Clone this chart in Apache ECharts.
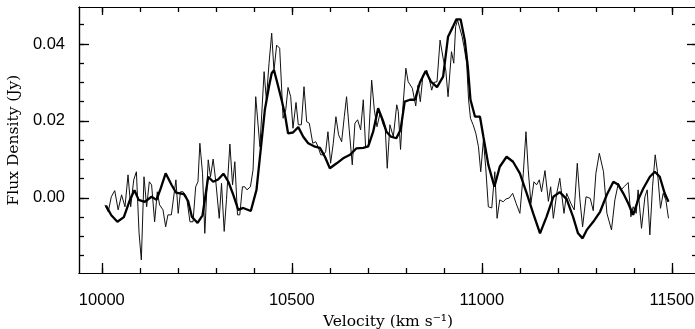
<!DOCTYPE html>
<html>
<head>
<meta charset="utf-8">
<script src="https://cdn.jsdelivr.net/npm/echarts@6/dist/echarts.min.js"></script>
<style>
  html, body { margin: 0; padding: 0; background: #fff; }
  #chart { width: 695px; height: 329px; }
</style>
</head>
<body>
<div id="chart"></div>
<script>
// thin trace: raw spectrum (velocity km/s, flux Jy)
const thinVel = [10008,10017,10025,10034,10043,10052,10061,10069,10076,10084,10091,10098,10104,10111,10118,10125,10131,10139,10146,10152,10161,10168,10174,10183,10195,10201,10207,10214,10223,10232,10240,10247,10253,10258,10265,10271,10280,10286,10293,10300,10309,10315,10322,10328,10337,10344,10350,10357,10363,10370,10376,10382,10391,10398,10405,10416,10427,10433,10440,10447,10453,10460,10468,10477,10484,10490,10497,10503,10511,10517,10525,10532,10539,10546,10555,10563,10569,10576,10583,10589,10595,10602,10609,10616,10623,10631,10638,10644,10651,10659,10666,10673,10681,10688,10694,10701,10710,10717,10724,10732,10739,10746,10751,10758,10767,10776,10780,10786,10793,10800,10806,10817,10826,10832,10838,10845,10855,10862,10868,10874,10882,10890,10898,10905,10911,10920,10926,10931,10936,10941,10948,10953,10960,10965,10970,10977,10984,10991,10997,11004,11010,11017,11026,11034,11040,11047,11056,11063,11072,11081,11090,11100,11109,11116,11122,11129,11137,11144,11151,11157,11166,11175,11181,11188,11197,11205,11216,11223,11234,11243,11251,11258,11265,11274,11285,11293,11300,11309,11320,11329,11341,11350,11359,11366,11374,11385,11392,11398,11406,11411,11420,11429,11435,11442,11449,11456,11462,11470,11477,11484,11491]
const thinFlux = [-0.0018,-0.0036,0.0003,0.0019,-0.0031,0.0008,-0.0023,0.0060,-0.0023,0.0047,0.0068,-0.0091,-0.0161,0.0055,-0.0023,0.0042,0.0034,-0.0062,0.0016,-0.0018,-0.0031,-0.0075,-0.0044,-0.0044,0.0047,-0.0040,0.0016,0.0016,0.0003,-0.0062,-0.0062,0.0029,0.0042,0.0142,0.0064,-0.0092,0.0099,0.0055,0.0101,0.0042,-0.0053,0.0038,-0.0087,-0.0005,0.0140,0.0034,0.0094,-0.0044,-0.0044,0.0029,0.0029,0.0021,0.0029,0.0073,0.0263,0.0133,0.0328,0.0255,0.0350,0.0428,0.0330,0.0397,0.0389,0.0207,0.0229,0.0287,0.0263,0.0181,0.0248,0.0190,0.0190,0.0289,0.0198,0.0194,0.0142,0.0146,0.0133,0.0112,0.0112,0.0120,0.0172,0.0090,0.0142,0.0211,0.0164,0.0146,0.0211,0.0263,0.0177,0.0086,0.0194,0.0203,0.0177,0.0255,0.0133,0.0133,0.0306,0.0229,0.0185,0.0220,0.0194,0.0177,0.0077,0.0190,0.0159,0.0242,0.0225,0.0126,0.0246,0.0337,0.0302,0.0285,0.0239,0.0293,0.0250,0.0319,0.0332,0.0307,0.0280,0.0300,0.0302,0.0410,0.0363,0.0332,0.0263,0.0380,0.0350,0.0445,0.0462,0.0462,0.0419,0.0393,0.0350,0.0255,0.0207,0.0190,0.0168,0.0133,0.0068,0.0150,0.0081,-0.0023,-0.0026,0.0068,-0.0053,-0.0005,-0.0010,-0.0003,0.0000,0.0012,-0.0014,-0.0040,0.0064,0.0172,0.0073,-0.0014,0.0042,0.0034,0.0047,0.0016,0.0071,-0.0009,0.0029,-0.0053,0.0012,0.0051,-0.0040,0.0012,-0.0014,-0.0031,0.0090,-0.0005,-0.0075,0.0003,-0.0001,-0.0033,0.0064,0.0116,0.0068,-0.0040,-0.0083,-0.0005,0.0038,0.0021,0.0029,0.0040,-0.0049,-0.0023,-0.0040,0.0021,-0.0079,0.0003,0.0021,-0.0096,0.0029,0.0112,0.0068,-0.0027,0.0012,-0.0005,-0.0053]

// thick trace: smoothed spectrum
const thickVel = [10011,10025,10041,10058,10074,10086,10097,10113,10131,10144,10155,10168,10183,10195,10216,10227,10237,10252,10265,10280,10293,10306,10320,10333,10346,10359,10372,10392,10407,10418,10429,10440,10447,10453,10461,10473,10482,10490,10503,10517,10530,10543,10561,10574,10587,10600,10618,10635,10653,10670,10688,10701,10714,10727,10740,10749,10761,10775,10786,10797,10811,10824,10837,10852,10866,10882,10898,10911,10924,10933,10944,10955,10963,10970,10982,10995,11004,11017,11033,11047,11065,11082,11100,11118,11135,11153,11170,11188,11205,11223,11240,11253,11265,11276,11293,11311,11329,11346,11359,11372,11385,11398,11411,11425,11442,11455,11468,11481,11491]
const thickFlux = [-0.0020,-0.0045,-0.0062,-0.0050,-0.0005,0.0020,-0.0005,-0.0010,0.0003,-0.0005,0.0025,0.0064,0.0035,0.0014,0.0010,-0.0008,-0.0049,-0.0065,-0.0045,0.0055,0.0042,0.0048,0.0063,0.0042,0.0008,-0.0031,-0.0026,-0.0034,0.0021,0.0125,0.0229,0.0290,0.0324,0.0332,0.0302,0.0255,0.0216,0.0168,0.0170,0.0184,0.0159,0.0142,0.0133,0.0130,0.0107,0.0077,0.0090,0.0103,0.0112,0.0129,0.0130,0.0134,0.0172,0.0233,0.0200,0.0172,0.0159,0.0155,0.0177,0.0250,0.0255,0.0255,0.0300,0.0330,0.0302,0.0288,0.0315,0.0419,0.0445,0.0464,0.0464,0.0410,0.0341,0.0255,0.0211,0.0211,0.0159,0.0086,0.0029,0.0081,0.0107,0.0094,0.0064,0.0012,-0.0040,-0.0092,-0.0049,0.0003,0.0015,-0.0003,-0.0049,-0.0092,-0.0105,-0.0083,-0.0062,-0.0036,0.0009,0.0042,0.0034,0.0012,-0.0014,-0.0044,-0.0005,0.0025,0.0055,0.0068,0.0055,0.0012,-0.0010]

const xMajorTicks = [10000, 10500, 11000, 11500]
const xMinorTicks = [10000,10100,10200,10300,10400,10500,10600,10700,10800,10900,11000,11100,11200,11300,11400,11500]
const yMajorTicks = [0, 0.02, 0.04]
const yMinorTicks = [-0.015,-0.01,-0.005,0,0.005,0.01,0.015,0.02,0.025,0.03,0.035,0.04,0.045]

const X_MIN = 9940, X_MAX = 11566
const Y_MIN = -0.0195, Y_MAX = 0.0496

const chart = echarts.init(document.getElementById('chart'))

const pair = (xs, ys) => xs.map((x, i) => [x, ys[i]])

const axisBase = (pos, min, max, ticks, len) => ({
  type: 'value',
  position: pos,
  min: min,
  max: max,
  splitLine: { show: false },
  axisLine: { show: true, onZero: false, lineStyle: { color: '#000', width: 1.2 } },
  axisTick: { show: true, inside: true, length: len, customValues: ticks, lineStyle: { color: '#000', width: 1.3 } },
  axisLabel: { show: false },
})

const makeX = (pos, ticks, len) => axisBase(pos, X_MIN, X_MAX, ticks, len)
const makeY = (pos, ticks, len) => axisBase(pos, Y_MIN, Y_MAX, ticks, len)

const xBottom = makeX('bottom', xMajorTicks, 10)
xBottom.axisLabel = { show: true, customValues: xMajorTicks, margin: 19, fontSize: 16.5, color: '#000',
  fontFamily: 'Liberation Sans, Arial, sans-serif', formatter: v => String(v) }
xBottom.name = 'Velocity (km s\u207B\u00B9)'
xBottom.nameLocation = 'middle'
xBottom.nameGap = 33
xBottom.nameTextStyle = { fontSize: 15.5, color: '#000', fontFamily: 'DejaVu Serif, serif' }

const yLeft = makeY('left', yMajorTicks, 10)
yLeft.axisLabel = { show: true, customValues: yMajorTicks, margin: 14, fontSize: 16.5, color: '#000',
  fontFamily: 'Liberation Sans, Arial, sans-serif', formatter: v => v.toFixed(2) }
yLeft.name = 'Flux Density (Jy)'
yLeft.nameLocation = 'middle'
yLeft.nameGap = 56
yLeft.nameTextStyle = { fontSize: 15.5, color: '#000', fontFamily: 'DejaVu Serif, serif' }

const option = {
  animation: false,
  backgroundColor: '#fff',
  grid: { left: 79, right: -2, top: 7, bottom: 56, outerBoundsMode: 'none', containLabel: false },
  xAxis: [
    xBottom,
    makeX('bottom', xMinorTicks, 5),
    makeX('top', xMajorTicks, 8),
    makeX('top', xMinorTicks, 5),
  ],
  yAxis: [
    yLeft,
    makeY('left', yMinorTicks, 5),
    makeY('right', yMajorTicks, 10),
    makeY('right', yMinorTicks, 5),
  ],
  series: [
    {
      type: 'line',
      data: pair(thinVel, thinFlux),
      showSymbol: false,
      lineStyle: { color: '#111', width: 1 },
      z: 2,
    },
    {
      type: 'line',
      data: pair(thickVel, thickFlux),
      showSymbol: false,
      lineStyle: { color: '#000', width: 2.3 },
      z: 3,
    },
  ],
}

chart.setOption(option)
</script>
</body>
</html>
